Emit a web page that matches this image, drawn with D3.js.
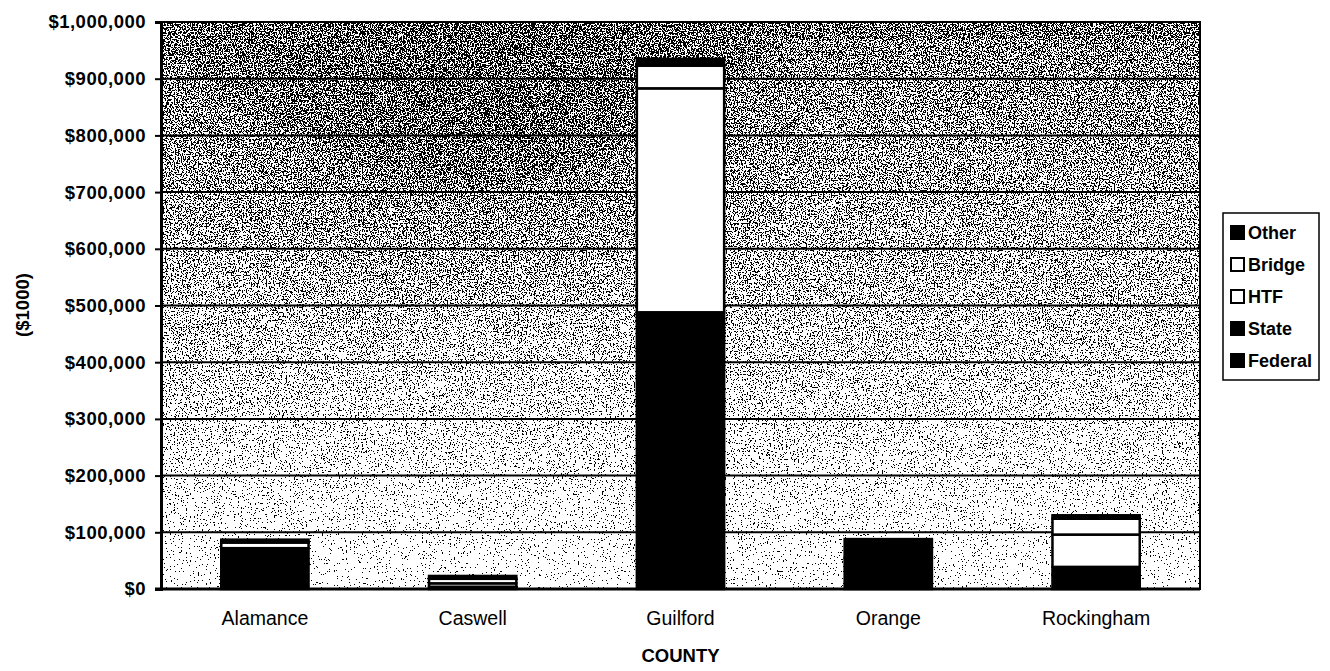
<!DOCTYPE html>
<html>
<head>
<meta charset="utf-8">
<script src="https://cdn.jsdelivr.net/npm/d3@7"></script>
<style>
  body { margin: 0; background: #fff; }
  text { font-family: "Liberation Sans", Arial, sans-serif; fill: #000; }
</style>
</head>
<body>
<svg id="chart"></svg>
<script>
// counties and funding by source, in $1000
const counties = ['Alamance', 'Caswell', 'Guilford', 'Orange', 'Rockingham'];
const federal = [45000, 2500, 300000, 55000, 25000];
const stateFunds = [27000, 1500, 188000, 33000, 14000];
const htf = [10000, 6000, 395000, 0, 57000];
const bridge = [1000, 8000, 40000, 0, 28000];
const other = [4000, 5000, 12000, 0, 6000];
const seriesNames = ['Federal', 'State', 'HTF', 'Bridge', 'Other'];
const seriesFill = { Federal: '#000', State: '#000', HTF: '#fff', Bridge: '#fff', Other: '#000' };
const yTicks = [0, 100000, 200000, 300000, 400000, 500000, 600000, 700000, 800000, 900000, 1000000];

const svgWidth = 1330, svgHeight = 671;
const margin = { top: 22, left: 161, right: 130, bottom: 82 };
const width = svgWidth - margin.left - margin.right;
const height = svgHeight - margin.top - margin.bottom;
const fontFamily = '"Liberation Sans", Arial, sans-serif';

const svg = d3.select('#chart').attr('width', svgWidth).attr('height', svgHeight);

// speckled scan-like background: gradient + noise, thresholded to black/white
const defs = svg.append('defs');
const grad = defs.append('linearGradient').attr('id', 'bg').attr('x1', 0).attr('y1', 0).attr('x2', 0).attr('y2', 1);
grad.append('stop').attr('offset', '0%').attr('stop-color', '#7c7c7c');
grad.append('stop').attr('offset', '50%').attr('stop-color', '#acacac');
grad.append('stop').attr('offset', '100%').attr('stop-color', '#f2f2f2');

const blob = defs.append('radialGradient').attr('id', 'blob')
  .attr('cx', 0.3).attr('cy', 0.2).attr('r', 0.35);
blob.append('stop').attr('offset', '0%').attr('stop-color', '#000').attr('stop-opacity', 0.22);
blob.append('stop').attr('offset', '100%').attr('stop-color', '#000').attr('stop-opacity', 0);

const f = defs.append('filter').attr('id', 'dither')
  .attr('x', 0).attr('y', 0).attr('width', 1).attr('height', 1)
  .attr('color-interpolation-filters', 'sRGB');
f.append('feTurbulence').attr('type', 'fractalNoise').attr('baseFrequency', 0.75)
  .attr('numOctaves', 2).attr('seed', 3).attr('result', 'noise');
f.append('feColorMatrix').attr('in', 'noise').attr('type', 'matrix')
  .attr('values', '1 0 0 0 0  1 0 0 0 0  1 0 0 0 0  0 0 0 0 1').attr('result', 'n');
f.append('feComposite').attr('in', 'SourceGraphic').attr('in2', 'n').attr('operator', 'arithmetic')
  .attr('k1', 0).attr('k2', 1).attr('k3', 2.2).attr('k4', -1.1).attr('result', 'mix');
const ct = f.append('feComponentTransfer').attr('in', 'mix');
['feFuncR', 'feFuncG', 'feFuncB'].forEach(fn => ct.append(fn).attr('type', 'discrete').attr('tableValues', '0 1'));

const g = svg.append('g').attr('transform', 'translate(' + margin.left + ',' + margin.top + ')');

const x = d3.scaleBand().domain(counties).range([0, width]).paddingInner(0.58).paddingOuter(0.29);
const y = d3.scaleLinear().domain([0, 1000000]).range([height, 0]);

const bg = g.append('g').attr('filter', 'url(#dither)');
bg.append('rect').attr('width', width).attr('height', height).attr('fill', 'url(#bg)');
bg.append('rect').attr('width', width).attr('height', height).attr('fill', 'url(#blob)');

// gridlines
g.selectAll('.grid').data(yTicks).enter().append('line')
  .attr('x1', 0).attr('x2', width)
  .attr('y1', d => y(d)).attr('y2', d => y(d))
  .attr('stroke', '#000').attr('stroke-width', 2);

g.append('rect').attr('width', width).attr('height', height)
  .attr('fill', 'none').attr('stroke', '#000').attr('stroke-width', 2);

// stacked bars
const table = counties.map((c, i) => ({
  county: c, Federal: federal[i], State: stateFunds[i], HTF: htf[i], Bridge: bridge[i], Other: other[i]
}));
const stacked = d3.stack().keys(seriesNames)(table);
g.selectAll('.series').data(stacked).enter().append('g')
  .attr('fill', d => seriesFill[d.key])
  .selectAll('rect').data(d => d.filter(s => s[1] > s[0])).enter().append('rect')
  .attr('x', d => x(d.data.county))
  .attr('width', x.bandwidth())
  .attr('y', d => y(d[1]))
  .attr('height', d => y(d[0]) - y(d[1]))
  .attr('stroke', '#000').attr('stroke-width', 2.5);

// axes
const yAxis = g.append('g')
  .call(d3.axisLeft(y).tickValues(yTicks).tickSize(6).tickPadding(9)
    .tickFormat(d => '$' + d3.format(',')(d)));
yAxis.select('.domain').attr('stroke-width', 3);
yAxis.selectAll('.tick line').attr('stroke-width', 2);
yAxis.selectAll('text').attr('font-size', 18.5).attr('font-weight', 'bold')
  .attr('font-family', fontFamily).attr('letter-spacing', 0.5);

const xAxis = g.append('g').attr('transform', 'translate(0,' + height + ')')
  .call(d3.axisBottom(x).tickSize(0).tickPadding(22));
xAxis.select('.domain').attr('stroke-width', 3).attr('d', 'M-6,0H' + width);
xAxis.selectAll('text').attr('font-size', 19.5).attr('font-family', fontFamily);

svg.append('text').attr('x', margin.left + width / 2).attr('y', 662)
  .attr('text-anchor', 'middle').attr('font-size', 18.5).attr('font-weight', 'bold').text('COUNTY');

svg.append('text').attr('transform', 'translate(29,305) rotate(-90)')
  .attr('text-anchor', 'middle').attr('font-size', 18.5).attr('font-weight', 'bold').text('($1000)');

// legend
const legend = svg.append('g').attr('transform', 'translate(1223,213)');
legend.append('rect').attr('width', 96).attr('height', 167)
  .attr('fill', '#fff').attr('stroke', '#000').attr('stroke-width', 1.5);
const legendOrder = seriesNames.slice().reverse();
const item = legend.selectAll('.item').data(legendOrder).enter().append('g')
  .attr('transform', (d, i) => 'translate(8,' + (19 + i * 32) + ')');
item.append('rect').attr('x', 0).attr('y', -6).attr('width', 13).attr('height', 13)
  .attr('fill', d => seriesFill[d]).attr('stroke', '#000').attr('stroke-width', 2);
item.append('text').attr('x', 17).attr('y', 7).attr('font-size', 18)
  .attr('font-weight', 'bold').text(d => d);
</script>
</body>
</html>
